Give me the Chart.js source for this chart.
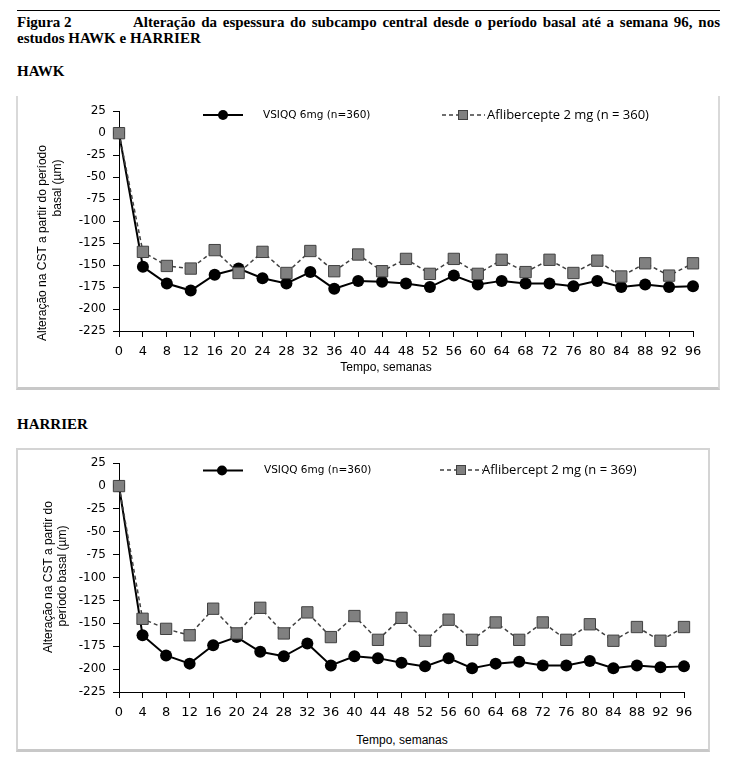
<!DOCTYPE html>
<html>
<head>
<meta charset="utf-8">
<script src="https://cdn.jsdelivr.net/npm/chart.js@4"></script>
<style>
  body { margin: 0; background: #fff; width: 740px; height: 765px; position: relative; overflow: hidden; }
  .hdr { position: absolute; font-family: "Liberation Serif", serif; font-weight: bold; font-size: 15px; color: #000; white-space: nowrap; }
  .rule { position: absolute; left: 17px; top: 10px; width: 703px; border-top: 1px solid #000; }
  .box { position: absolute; box-sizing: border-box; }
  .ytitle, .xtitle { position: absolute; font-family: "Liberation Sans", Arial, sans-serif; font-size: 12px; color: #000; white-space: nowrap; }
  .ytitle { transform: translate(-50%, -50%) rotate(-90deg); }
  .xtitle { transform: translate(-50%, -50%); background: #fff; padding: 0 12px; }
  canvas { position: absolute; }
</style>
</head>
<body>
<div class="rule"></div>
<div class="hdr" style="left:17px; top:14px;">Figura 2</div>
<div class="hdr" style="left:133px; top:14px; width:587px; white-space:normal; text-align:justify; text-align-last:justify;">Alteração da espessura do subcampo central desde o período basal até a semana 96, nos</div>
<div class="hdr" style="left:17px; top:30px;">estudos HAWK e HARRIER</div>
<div class="hdr" style="left:17px; top:63px;">HAWK</div>
<div class="hdr" style="left:17px; top:416px;">HARRIER</div>

<!-- HAWK -->
<div class="box" style="left:16px; top:96px; width:704px; height:294px; border-left:2px solid #d9d9d9; border-right:2px solid #d9d9d9; border-bottom:3px solid #c8c8c8;"></div>
<canvas id="hawk" width="701" height="291" style="left:17px; top:97px;"></canvas>
<div class="ytitle" style="left:42px; top:243px;">Alteração na CST a partir do período</div>
<div class="ytitle" style="left:57px; top:188px;">basal (µm)</div>
<div class="xtitle" style="left:386px; top:367px; background:transparent;">Tempo, semanas</div>

<!-- HARRIER -->
<div class="box" style="left:16px; top:448px; width:694px; height:304px; border:2px solid #d4d4d4; border-bottom:3px solid #c8c8c8;"></div>
<canvas id="harrier" width="691" height="300" style="left:17px; top:449px;"></canvas>
<div class="ytitle" style="left:48px; top:577px;">Alteração na CST a partir do</div>
<div class="ytitle" style="left:62px; top:576px;">período basal (µm)</div>
<div class="xtitle" style="left:402px; top:740px;">Tempo, semanas</div>

<script>
const weeks = ['0', '4', '8', '12', '16', '20', '24', '28', '32', '36', '40', '44', '48',
  '52', '56', '60', '64', '68', '72', '76', '80', '84', '88', '92', '96'];

const yTicks = { min: -225, max: 25, step: 25 };

// HAWK
const hawkVsiqqLabel = 'VSIQQ 6mg (n=360)';
const hawkAfliLabel = 'Aflibercepte 2 mg (n = 360)';
const hawkVsiqq = [0, -152, -171, -179, -161, -154, -165, -171, -158, -177, -168, -169, -171,
  -175, -162, -172, -168, -171, -171, -174, -168, -175, -172, -175, -174];
const hawkAfli = [0, -135, -151, -154, -133, -159, -135, -159, -134, -157, -138, -157, -143,
  -160, -143, -160, -144, -158, -144, -159, -145, -163, -148, -162, -148];

// HARRIER
const harrierVsiqqLabel = 'VSIQQ 6mg (n=360)';
const harrierAfliLabel = 'Aflibercept 2 mg (n = 369)';
const harrierVsiqq = [0, -163, -185, -194, -174, -165, -181, -186, -172, -196, -186, -188, -193,
  -197, -188, -199, -194, -192, -196, -196, -191, -199, -196, -198, -197];
const harrierAfli = [0, -145, -156, -163, -134, -161, -133, -161, -138, -165, -142, -168, -144,
  -169, -146, -168, -149, -168, -149, -168, -151, -169, -154, -169, -154];

// legenda dentro do gráfico
const inlineLegend = {
  id: 'inlineLegend',
  afterDraw(chart, args, o) {
    const ctx = chart.ctx;
    const ds = chart.data.datasets;
    ctx.save();
    // VSIQQ: linha cheia + círculo
    ctx.setLineDash([]);
    ctx.strokeStyle = '#000';
    ctx.lineWidth = 2;
    ctx.beginPath();
    ctx.moveTo(o.a[0], o.a[3]);
    ctx.lineTo(o.a[1], o.a[3]);
    ctx.stroke();
    ctx.fillStyle = '#000';
    ctx.beginPath();
    ctx.arc(o.a[2], o.a[3], 5, 0, Math.PI * 2);
    ctx.fill();
    ctx.font = '10.5px "DejaVu Sans"';
    ctx.textBaseline = 'middle';
    ctx.fillText(ds[1].label, o.a[4], o.a[3]);
    // Aflibercept: tracejado + quadrado
    ctx.strokeStyle = '#404040';
    ctx.lineWidth = 1.5;
    ctx.setLineDash([4, 3]);
    ctx.beginPath();
    ctx.moveTo(o.b[0], o.b[3]);
    ctx.lineTo(o.b[1], o.b[3]);
    ctx.stroke();
    ctx.setLineDash([]);
    ctx.fillStyle = '#808080';
    ctx.fillRect(o.b[2] - 4.5, o.b[3] - 4.5, 9, 9);
    ctx.lineWidth = 1;
    ctx.strokeRect(o.b[2] - 4.5, o.b[3] - 4.5, 9, 9);
    ctx.fillStyle = '#000';
    ctx.font = '13px "Open Sans"';
    ctx.fillText(ds[0].label, o.b[4], o.b[3]);
    ctx.restore();
  }
};

function makeChart(id, vsiqq, afli, vLabel, aLabel, padTop, padRight, xHeight, legend) {
  return new Chart(document.getElementById(id), {
    type: 'line',
    data: {
      labels: weeks,
      datasets: [{
        label: aLabel,
        data: afli,
        order: 0,
        borderColor: '#404040',
        borderWidth: 1.5,
        borderDash: [4, 3],
        pointStyle: 'rect',
        pointRadius: 8,
        pointBackgroundColor: '#808080',
        pointBorderColor: '#404040',
        pointBorderWidth: 1,
        tension: 0,
        clip: false
      }, {
        label: vLabel,
        data: vsiqq,
        order: 1,
        borderColor: '#000',
        borderWidth: 2,
        pointStyle: 'circle',
        pointRadius: 6,
        pointBackgroundColor: '#000',
        pointBorderColor: '#000',
        pointBorderWidth: 0,
        tension: 0,
        clip: false
      }]
    },
    options: {
      responsive: false,
      animation: false,
      devicePixelRatio: 1,
      layout: { padding: { left: 0, top: padTop, right: padRight, bottom: 0 } },
      plugins: {
        legend: { display: false },
        tooltip: { enabled: false },
        inlineLegend: legend
      },
      scales: {
        x: {
          grid: { drawOnChartArea: false, drawTicks: true, tickLength: 6, color: '#000' },
          border: { display: true, color: '#000', width: 1 },
          ticks: { color: '#000', font: { family: 'DejaVu Sans', size: 13 }, padding: 7, autoSkip: false, maxRotation: 0 },
          afterFit: s => { s.height = xHeight; }
        },
        y: {
          min: yTicks.min,
          max: yTicks.max,
          grid: { drawOnChartArea: false, drawTicks: true, tickLength: 6, color: '#000' },
          border: { display: true, color: '#000', width: 1 },
          ticks: { stepSize: yTicks.step, color: '#000', font: { family: 'DejaVu Sans', size: 12 }, padding: 7,
            callback: v => String(v) },
          afterFit: s => { s.width = 102; }
        }
      }
    },
    plugins: [inlineLegend]
  });
}

makeChart('hawk', hawkVsiqq, hawkAfli, hawkVsiqqLabel, hawkAfliLabel, 8, 25, 57,
  { a: [186, 226, 206, 18, 246], b: [425, 468, 446, 18, 470] });
makeChart('harrier', harrierVsiqq, harrierAfli, harrierVsiqqLabel, harrierAfliLabel, 7.5, 24, 57,
  { a: [186, 226, 205, 21.5, 247], b: [423, 466, 444, 21, 465] });
</script>
</body>
</html>
